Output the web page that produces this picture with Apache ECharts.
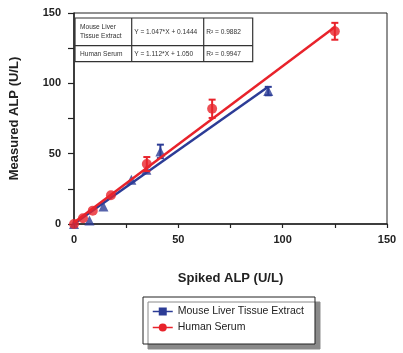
<!DOCTYPE html>
<html><head><meta charset="utf-8">
<script src="https://cdn.jsdelivr.net/npm/echarts@6/dist/echarts.min.js"></script>
<style>html,body{margin:0;padding:0;background:#fff}#c{width:403px;height:353px}</style>
</head><body><div id="c"></div>
<script>
// Data
const mouseX = [0, 7.4, 14.1, 27.5, 34.7, 41.4, 93.1];
const mouseY = [0, 2.4, 12.4, 31.4, 38.6, 51.6, 94.5];
const mouseErr = [0, 0, 0, 0, 0, 4.8, 3];
const serumX = [0, 4.3, 9, 17.7, 34.9, 66.2, 125];
const serumY = [0, 4.1, 9.5, 20.5, 42.6, 81.9, 137];
const serumErr = [0, 0, 0, 0, 5, 6.5, 6];
const mouseFit = [[0, 0.14], [93.1, 97.6]];
const serumFit = [[0, 1.05], [125, 140.0]];
const xTicks = [0, 50, 100, 150];
const yTicks = [0, 50, 100, 150];
const tableRows = [
  ['Mouse Liver\nTissue Extract', 'Y = 1.047*X + 0.1444', 'R\u00b2 = 0.9882'],
  ['Human Serum', 'Y = 1.112*X + 1.050', 'R\u00b2 = 0.9947']
];
const names = ['Mouse Liver Tissue Extract', 'Human Serum'];

const BLUE = '#2c3c96', RED = '#e8232b';
const F = 'Liberation Sans, Arial, sans-serif';

function zip(xs, ys) { return xs.map((x, i) => [x, ys[i]]); }
function errData(xs, ys, es) { return xs.map((x, i) => [x, ys[i], es[i]]).filter(d => d[2] > 0); }
function errRender(color) {
  return function (params, api) {
    const x = api.value(0), y = api.value(1), e = api.value(2);
    const top = api.coord([x, y + e]), bot = api.coord([x, y - e]);
    const w = 3.5;
    const st = { stroke: color, lineWidth: 2 };
    return { type: 'group', children: [
      { type: 'line', shape: { x1: top[0], y1: top[1], x2: bot[0], y2: bot[1] }, style: st },
      { type: 'line', shape: { x1: top[0] - w, y1: top[1], x2: top[0] + w, y2: top[1] }, style: st },
      { type: 'line', shape: { x1: bot[0] - w, y1: bot[1], x2: bot[0] + w, y2: bot[1] }, style: st }
    ]};
  };
}

// table graphic
const colX = [75, 131.7, 203.7, 252.7], rowY = [18, 45.7, 61.7];
const tableEls = [];
tableEls.push({ type: 'rect', shape: { x: colX[0], y: rowY[0], width: colX[3] - colX[0], height: rowY[2] - rowY[0] }, style: { fill: '#fff', stroke: '#333', lineWidth: 1.2 }, z: 10 });
tableEls.push({ type: 'line', shape: { x1: colX[0], y1: rowY[1], x2: colX[3], y2: rowY[1] }, style: { stroke: '#333', lineWidth: 1.2 }, z: 11 });
[1, 2].forEach(i => tableEls.push({ type: 'line', shape: { x1: colX[i], y1: rowY[0], x2: colX[i], y2: rowY[2] }, style: { stroke: '#333', lineWidth: 1.2 }, z: 11 }));
tableRows.forEach((row, r) => {
  row.forEach((txt, c) => {
    tableEls.push({ type: 'text', x: colX[c] + (c === 0 ? 5 : 2.5), y: (rowY[r] + rowY[r + 1]) / 2, z: 12,
      style: { text: txt, font: '6.6px ' + F, fill: '#333', verticalAlign: 'middle', lineHeight: 8.5 } });
  });
});

const chart = echarts.init(document.getElementById('c'), null, { renderer: 'canvas' });
chart.setOption({
  animation: false,
  backgroundColor: '#fff',
  grid: { left: 70, right: 16, top: 13, bottom: 129, show: true, borderColor: '#222', borderWidth: 1 },
  xAxis: {
    type: 'value', min: 0, max: 150, interval: 25,
    splitLine: { show: false },
    axisLine: { lineStyle: { color: '#222', width: 1.5 } },
    axisTick: { inside: false, length: 4, lineStyle: { color: '#222', width: 1.2 } },
    axisLabel: { margin: 10, color: '#222', fontWeight: 'bold', fontSize: 11, fontFamily: F,
      formatter: v => xTicks.includes(v) ? String(v) : '' },
    name: 'Spiked ALP (U/L)', nameLocation: 'middle', nameGap: 48,
    nameTextStyle: { fontWeight: 'bold', fontSize: 13, color: '#222', fontFamily: F }
  },
  yAxis: {
    type: 'value', min: 0, max: 150, interval: 25,
    splitLine: { show: false },
    axisLine: { lineStyle: { color: '#222', width: 1.5 } },
    axisTick: { inside: false, length: 6, lineStyle: { color: '#222', width: 1.2 } },
    axisLabel: { margin: 13, color: '#222', fontWeight: 'bold', fontSize: 11, fontFamily: F,
      formatter: v => yTicks.includes(v) ? String(v) : '' },
    name: 'Measured ALP (U/L)', nameLocation: 'middle', nameGap: 53,
    nameTextStyle: { fontWeight: 'bold', fontSize: 13, color: '#222', fontFamily: F }
  },
  legend: {
    data: names, orient: 'vertical', left: 143, top: 297,
    padding: [9, 11, 11, 9], itemWidth: 20, itemHeight: 10, itemGap: 5,
    backgroundColor: '#fff', borderColor: '#222', borderWidth: 1, borderRadius: 0,
    shadowColor: '#8a8a8a', shadowBlur: 0, shadowOffsetX: 5, shadowOffsetY: 5,
    textStyle: { fontSize: 10.5, color: '#222', fontFamily: F },
    lineStyle: { width: 1.5 }
  },
  graphic: tableEls,
  series: [
    { name: names[0], type: 'line', data: mouseFit, symbol: 'rect', showSymbol: false, symbolSize: 8,
      color: BLUE, lineStyle: { color: BLUE, width: 2.5 }, z: 2 },
    { name: 'mouse-data', type: 'scatter', data: zip(mouseX, mouseY), symbol: 'triangle', symbolSize: [10, 10],
      itemStyle: { color: BLUE }, z: 3 },
    { name: 'mouse-err', type: 'custom', data: errData(mouseX, mouseY, mouseErr), renderItem: errRender(BLUE), z: 3 },
    { name: names[1], type: 'line', data: serumFit, symbol: 'circle', showSymbol: false, symbolSize: 8,
      color: RED, lineStyle: { color: RED, width: 2.5 }, z: 4 },
    { name: 'serum-err', type: 'custom', data: errData(serumX, serumY, serumErr), renderItem: errRender(RED), z: 5 },
    { name: 'serum-data', type: 'scatter', data: zip(serumX, serumY), symbol: 'circle', symbolSize: 10,
      itemStyle: { color: RED }, z: 5 }
  ]
});
</script></body></html>
